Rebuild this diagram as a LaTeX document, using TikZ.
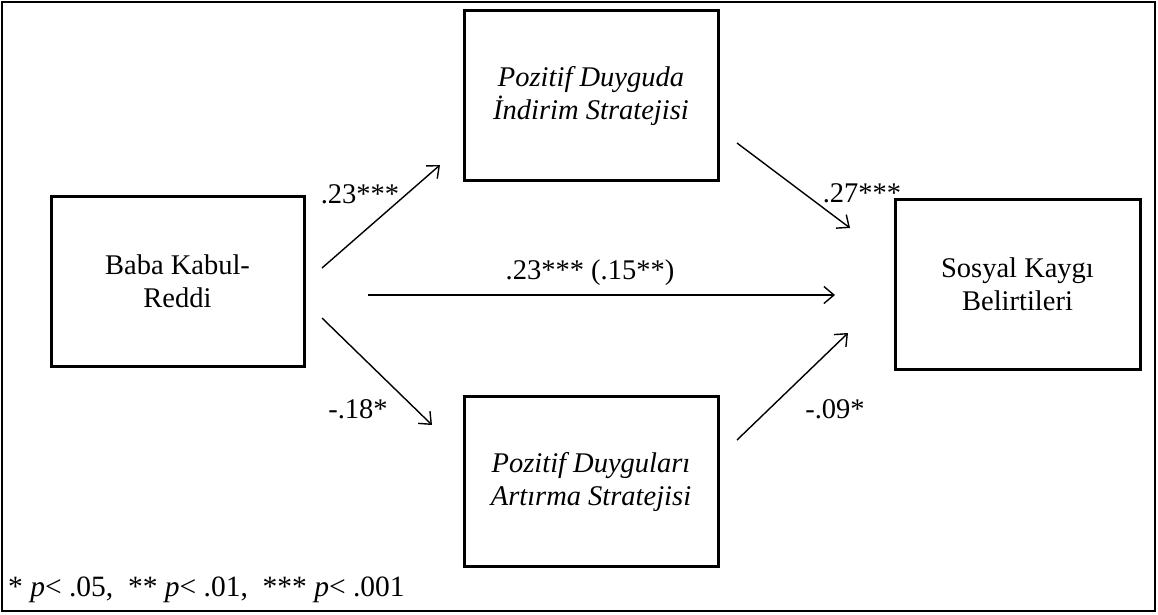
\documentclass[tikz,border=0pt]{standalone}
\usepackage{fontspec}
\setmainfont{Liberation Serif}
\usetikzlibrary{arrows.meta,positioning}

\tikzset{
  txt/.style={font=\fontsize{28.5}{33}\selectfont},
  box/.style={txt, draw=black, line width=3pt, minimum width=#1, minimum height=170pt, align=center, inner sep=0pt},
  arr/.style={-{Straight Barb[length=10pt,width=17pt,line width=1.4pt]}, line width=1.4pt}
}

\begin{document}
\begin{tikzpicture}[x=1pt,y=-1pt]
\useasboundingbox (0,0) rectangle (1158,614);
\draw[line width=2pt] (2,2) rectangle (1155,611);

% variables
\node[box=253pt] (baba) at (177.5,281) {Baba Kabul-\\Reddi};
\node[box=254pt] (indirim) at (591,95.5) {\itshape Pozitif Duyguda\\\itshape İndirim Stratejisi};
\node[box=254pt] (artirma) at (591,481.5) {\itshape Pozitif Duyguları\\\itshape Artırma Stratejisi};
\node[box=245pt] (kaygi) at (1017.5,284) {Sosyal Kaygı\\Belirtileri};

% arrow ends
\coordinate (b1) at (322,268);
\coordinate (i1) at (440,165);
\coordinate (i2) at (737,143);
\coordinate (k1) at (850,228);
\coordinate (b2) at (368,295);
\coordinate (k2) at (835,295);
\coordinate (b3) at (322,318);
\coordinate (a1) at (432,425);
\coordinate (a2) at (737,440);
\coordinate (k3) at (848,333);

\draw[arr] (b1) -- (i1);
\draw[arr] (i2) -- (k1);
\draw[arr] (b2) -- (k2);
\draw[arr] (b3) -- (a1);
\draw[arr] (a2) -- (k3);

\foreach \n/\x/\y/\t in
  {l1/360/203/{.23***},
   l2/862/202/{.27***},
   l3/590/279/{.23*** (.15**)},
   l4/358/418/{-.18*},
   l5/835/418/{-.09*}}
{
  \node[txt, anchor=base, inner sep=0pt] (\n) at (\x,\y) {\t};
};

\node[font=\fontsize{29.5}{34}\selectfont, anchor=base west, inner sep=0pt] (note) at (8,596)
  {* \textit{p}< .05,\ \ ** \textit{p}< .01,\ \ *** \textit{p}< .001};
\end{tikzpicture}
\end{document}
